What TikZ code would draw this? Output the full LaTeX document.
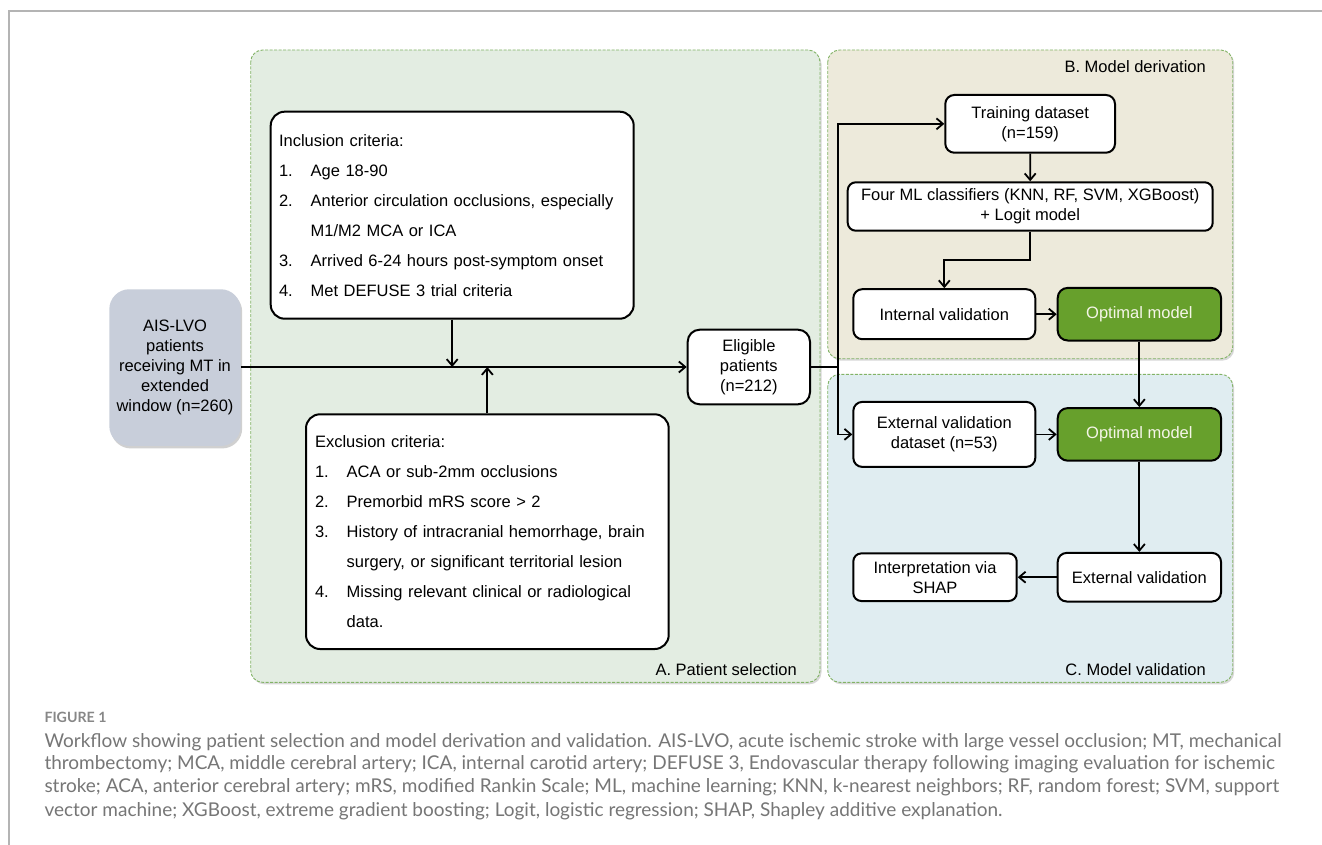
\documentclass[tikz,border=0pt]{standalone}
\usepackage{fontspec}
\setmainfont{Liberation Sans}
\newfontfamily\capfont{Lato}
\usetikzlibrary{arrows.meta,shadows,calc}
\newlength\capw
\newlength\figw
\definecolor{panelA}{RGB}{227,237,226}
\definecolor{panelB}{RGB}{237,234,219}
\definecolor{panelC}{RGB}{224,237,241}
\definecolor{panelborder}{RGB}{130,179,102}
\definecolor{aisfill}{RGB}{200,206,218}
\definecolor{optgreen}{RGB}{103,160,44}
\definecolor{opttext}{RGB}{245,245,232}
\definecolor{framegray}{RGB}{180,180,180}
\definecolor{capgray}{RGB}{118,118,118}
\definecolor{figgray}{RGB}{135,135,135}
\newcommand\fs{\fontsize{16.5pt}{20pt}\selectfont}
\newcommand\listfs{\fontsize{16.5pt}{30pt}\selectfont}
\newcommand\capline{\capfont\fontsize{\capsz pt}{23pt}\selectfont}
\newcommand\figline{\capfont\bfseries\fontsize{\figsz pt}{23pt}\selectfont}
\AtBeginDocument{%
\settowidth\capw{\capfont\fontsize{10pt}{12pt}\selectfont Workflow showing patient selection and model derivation and validation. AIS-LVO, acute ischemic stroke with large vessel occlusion; MT, mechanical}%
\pgfmathsetmacro\capsz{10*1237/\capw}%
\settowidth\figw{\capfont\bfseries\fontsize{10pt}{12pt}\selectfont FIGURE 1}%
\pgfmathsetmacro\figsz{10*62/\figw}%
}
\begin{document}
\begin{tikzpicture}[x=1pt,y=-1pt,
  flowbox/.style={draw=black, line width=2pt, fill=white, rounded corners=9pt,
    align=center, inner sep=0pt, font=\fs},
  optbox/.style={flowbox, fill=optgreen, text=opttext},
  panelbg/.style={draw=panelborder, dash pattern=on 3pt off 1.5pt, line width=0.9pt,
    rounded corners=12pt, drop shadow={shadow xshift=1.5pt, shadow yshift=-2pt, opacity=0.25, fill=black!60}},
  arr/.style={line width=1.8pt, -{Straight Barb[length=6.5pt,width=11pt]}},
  plainline/.style={line width=1.8pt},
  plabel/.style={anchor=east, inner sep=0pt, font=\fs}
]
\useasboundingbox (0,0) rectangle (1322,845);
\fill[white] (0,0) rectangle (1322,845);

% frame
\draw[framegray, line width=1.5pt] (9,845) -- (9,11) -- (1322,11);

% panels
\draw[panelbg, fill=panelA] (250.7,50) rectangle (820,682.3);
\draw[panelbg, fill=panelB] (827.7,50) rectangle (1232.7,358.7);
\draw[panelbg, fill=panelC] (827.7,374.3) rectangle (1232.7,682.3);

\node[plabel] (labA) at (797,669.5) {A. Patient selection};
\node[plabel] (labB) at (1206,66.7) {B. Model derivation};
\node[plabel] (labC) at (1206,670) {C. Model validation};

% source box
\node[draw=none, fill=aisfill, rounded corners=20pt, minimum width=131.4pt, minimum height=156.7pt,
  align=center, inner sep=0pt, font=\fs,
  drop shadow={shadow xshift=1.5pt, shadow yshift=-2.5pt, opacity=0.3, fill=black!60}]
  (ais) at (175,367.6) {AIS-LVO\\patients\\receiving MT in\\extended\\window (n=260)};

% inclusion / exclusion
\node[flowbox, rounded corners=14pt, minimum width=363pt, minimum height=207pt,
  text width=346.4pt, inner xsep=8.3pt, align=left, font=\listfs]
  (incl) at (452.2,215.2) {\begin{tabular}{@{}p{31.7pt}@{}l@{}}
  \multicolumn{2}{@{}l@{}}{Inclusion criteria:}\\
  1. & Age 18-90\\
  2. & Anterior circulation occlusions, especially\\
     & M1/M2 MCA or ICA\\
  3. & Arrived 6-24 hours post-symptom onset\\
  4. & Met DEFUSE 3 trial criteria
  \end{tabular}};

\node[flowbox, rounded corners=14pt, minimum width=362.7pt, minimum height=234.7pt,
  text width=344.7pt, inner xsep=9pt, align=left, font=\listfs]
  (excl) at (487.35,531.65) {\begin{tabular}{@{}p{31.7pt}@{}l@{}}
  \multicolumn{2}{@{}l@{}}{Exclusion criteria:}\\
  1. & ACA or sub-2mm occlusions\\
  2. & Premorbid mRS score > 2\\
  3. & History of intracranial hemorrhage, brain\\
     & surgery, or significant territorial lesion\\
  4. & Missing relevant clinical or radiological\\
     & data.
  \end{tabular}};

\node[flowbox, rounded corners=12pt, minimum width=122.3pt, minimum height=74.6pt]
  (elig) at (748.85,367) {Eligible\\patients\\(n=212)};

% model derivation
\node[flowbox, minimum width=169.7pt, minimum height=57.7pt] (train) at (1030.15,123.85) {Training dataset\\(n=159)};
\node[flowbox, rounded corners=8pt, minimum width=365pt, minimum height=48.4pt] (four) at (1030.2,206.5) {Four ML classifiers (KNN, RF, SVM, XGBoost)\\+ Logit model};
\node[flowbox, minimum width=182pt, minimum height=50pt] (intval) at (944.3,314.2) {Internal validation};
\node[optbox, rounded corners=10pt, minimum width=163.3pt, minimum height=52.6pt] (opt1) at (1139.35,314.2) {Optimal model};

% model validation
\node[flowbox, minimum width=182pt, minimum height=65pt] (extds) at (944.3,434.4) {External validation\\dataset (n=53)};
\node[optbox, rounded corners=10pt, minimum width=163.3pt, minimum height=52.6pt] (opt2) at (1139.35,434.4) {Optimal model};
\node[flowbox, minimum width=163.3pt, minimum height=48.6pt] (extval) at (1139.35,577.2) {External validation};
\node[flowbox, rounded corners=8pt, minimum width=163.4pt, minimum height=47.6pt] (interp) at (935,577.2) {Interpretation via\\SHAP};

% connectors
\draw[arr] (ais.east |- elig.west) -- (elig.west);
\coordinate (jin) at (incl.south |- elig.west);
\coordinate (jex) at (excl.north |- elig.west);
\draw[arr] (incl.south) -- (jin);
\draw[arr] (excl.north) -- (jex);
\coordinate (split) at (838.3,367);
\draw[plainline] (elig.east) -- (split);
\draw[arr] (split) |- (train.west);
\draw[arr] (split) |- (extds.west);
\draw[arr] (train.south) -- (four.north);
\draw[arr] (four.south) -- ++(0,28.6) -| (intval.north);
\draw[arr] (intval.east) -- (opt1.west);
\draw[arr] (opt1.south) -- (opt2.north);
\draw[arr] (extds.east) -- (opt2.west);
\draw[arr] (opt2.south) -- (extval.north);
\draw[arr] (extval.west) -- (interp.east);

% caption
\node[anchor=base west, inner sep=0pt, font=\figline, text=figgray] (fig) at (44.3,722.8) {FIGURE 1};
\node[anchor=base west, inner sep=0pt, font=\capline, text=capgray] (cap1) at (44.3,747) {Workflow showing patient selection and model derivation and validation. AIS-LVO, acute ischemic stroke with large vessel occlusion; MT, mechanical};
\node[anchor=base west, inner sep=0pt, font=\capline, text=capgray] (cap2) at (44.3,769.3) {thrombectomy; MCA, middle cerebral artery; ICA, internal carotid artery; DEFUSE 3, Endovascular therapy following imaging evaluation for ischemic};
\node[anchor=base west, inner sep=0pt, font=\capline, text=capgray] (cap3) at (44.3,792.7) {stroke; ACA, anterior cerebral artery; mRS, modified Rankin Scale; ML, machine learning; KNN, k-nearest neighbors; RF, random forest; SVM, support};
\node[anchor=base west, inner sep=0pt, font=\capline, text=capgray] (cap4) at (44.3,816) {vector machine; XGBoost, extreme gradient boosting; Logit, logistic regression; SHAP, Shapley additive explanation.};
\end{tikzpicture}
\end{document}
